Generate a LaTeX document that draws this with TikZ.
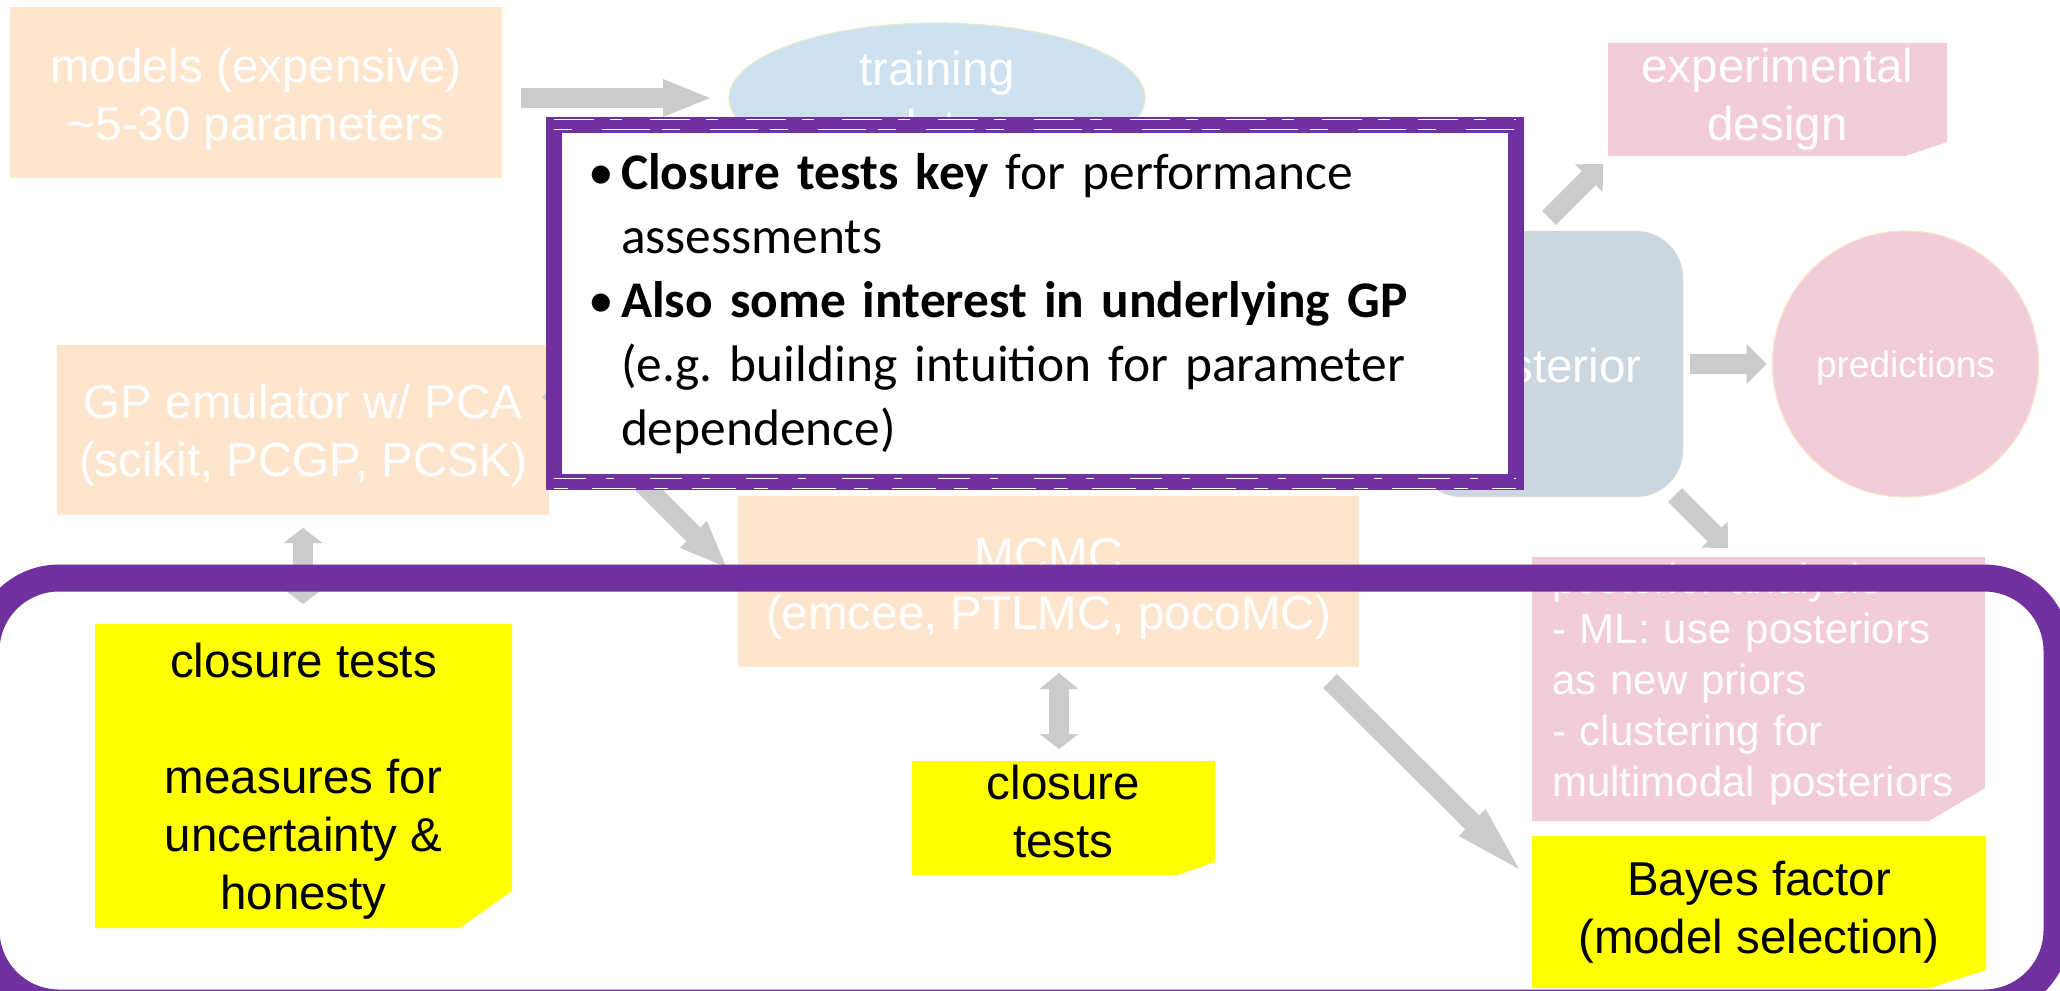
\documentclass[tikz,border=0pt]{standalone}
\usepackage{fontspec}
\setmainfont{Liberation Sans}
\newfontfamily\calibri{Carlito}
\usetikzlibrary{shapes.geometric,arrows.meta}

\definecolor{peach}{HTML}{FEE5CE}
\definecolor{skyfade}{HTML}{CDE1F0}
\definecolor{skyedge}{HTML}{E3EDC9}
\definecolor{rosefade}{HTML}{F2CCD9}
\definecolor{roseedge}{HTML}{FBE3C8}
\definecolor{slatefade}{HTML}{CDD7E0}
\definecolor{arrowgray}{HTML}{CBCBCB}
\definecolor{notepurple}{HTML}{7030A0}
\definecolor{hilite}{HTML}{FFFF00}

\newcommand{\liftline}[1]{\rule{0pt}{#1}}
\newcommand{\sinkline}[1]{\rule[-#1]{0pt}{#1}}

\begin{document}
\begin{tikzpicture}
[x=0.5pt, y=-0.5pt,
 every node/.style={inner sep=0pt, outer sep=0pt},
 faded/.style={text=white, font=\fontsize{23.75pt}{29pt}\selectfont, align=center},
 inked/.style={text=black, font=\fontsize{23.75pt}{29pt}\selectfont, align=center},
 cutbox/.style n args={3}{fill=white, path picture={
   \fill[#1] (path picture bounding box.north west) -- (path picture bounding box.north east)
     -- ([yshift=#3]path picture bounding box.south east) -- ([xshift=-#2]path picture bounding box.south east)
     -- (path picture bounding box.south west) -- cycle;}},
 fatarrow/.style={draw=arrowgray, line width=9.75pt}]
\useasboundingbox (0,0) rectangle (2060,990);
\clip (0,0) rectangle (2060,990);
\fill[white] (0,0) rectangle (2060,990);

\node (models) [rectangle, fill=peach, minimum width=246pt, minimum height=85.5pt, faded] at (256, 92.5) {\liftline{23.5pt}models (expensive)\\\textasciitilde5-30 parameters};
\node (training) [ellipse, fill=skyfade, draw=skyedge, line width=0.6pt, minimum width=208pt, minimum height=75pt, faded] at (937, 98) {training\\data};
\node (gp) [rectangle, fill=peach, minimum width=246pt, minimum height=85pt, faded] at (303, 430) {\liftline{22pt}GP emulator w/ PCA\\(scikit, PCGP, PCSK)};
\node (mcmc) [rectangle, fill=peach, minimum width=310.5pt, minimum height=85.5pt, faded] at (1048.5, 581.5) {\liftline{23.5pt}MCMC\\(emcee, PTLMC, pocoMC)};
\node (post) [rectangle, rounded corners=23.5pt, fill=slatefade, minimum width=134pt, minimum height=133pt, faded] at (1549, 364) {\liftline{23pt}posterior};
\node (pred) [circle, fill=rosefade, draw=roseedge, line width=0.6pt, minimum size=133pt, text=white, font=\fontsize{18.5pt}{22pt}\selectfont] at (1905.5, 364) {\liftline{17pt}predictions};
\node (exp) [cutbox={rosefade}{21pt}{7pt}, minimum width=169.5pt, minimum height=56.5pt, faded] at (1777.5, 99.5) {experimental\\design};
\node (pink) [cutbox={rosefade}{28pt}{16.5pt}, minimum width=226.5pt, minimum height=132pt, text=white, font=\fontsize{21pt}{25.4pt}\selectfont, text width=206.5pt, align=left] at (1758.5, 689) {posterior analysis\\- ML: use posteriors\\as new priors\\- clustering for\\multimodal posteriors\sinkline{9.5pt}};
\node (closL) [cutbox={hilite}{26pt}{18.5pt}, minimum width=208.5pt, minimum height=152pt, inked] at (303.5, 776) {\liftline{22pt}closure tests\\[29pt]measures for\\uncertainty \&\\honesty};
\node (clos2) [cutbox={hilite}{18.5pt}{6.5pt}, minimum width=151.5pt, minimum height=57pt, inked] at (1063.5, 818) {closure\\tests\sinkline{6.5pt}};
\node (bayes) [cutbox={hilite}{28pt}{9pt}, minimum width=227pt, minimum height=76pt, inked] at (1759, 912) {Bayes factor\\(model selection)};

\draw [fatarrow, -{Triangle[length=23.5pt, width=19pt, line width=0pt]}, shorten <=9.5pt, shorten >=9.5pt] (models.east |- training.west) -- (training.west);
\draw [fatarrow, -{Triangle[length=23pt, width=19pt, line width=0pt]}] ([yshift=20pt]gp.east) -- ([xshift=-6pt, yshift=7.25pt]mcmc.west);
\draw [fatarrow, {Triangle[length=7.5pt, width=19.5pt, line width=0pt]}-{Triangle[length=7.5pt, width=19.5pt, line width=0pt]}, shorten <=6.5pt, shorten >=10pt] (gp.south) -- (gp.south |- closL.north);
\draw [fatarrow, {Triangle[length=8pt, width=19.5pt, line width=0pt]}-{Triangle[length=7.5pt, width=19.5pt, line width=0pt]}, shorten <=3pt, shorten >=6pt] ([xshift=5.25pt]mcmc.south) -- ([xshift=5.25pt]mcmc.south |- clos2.north);
\draw [fatarrow, -{Triangle[length=33pt, width=19pt, line width=0pt]}] ([xshift=-14.5pt, yshift=-7pt]mcmc.south east) -- ([xshift=-6.5pt, yshift=-16.5pt]bayes.north west);
\draw [fatarrow, -{Triangle[length=10pt, width=19.5pt, line width=0pt]}] ([yshift=6.5pt]post.north) -- ([xshift=-2.5pt, yshift=-4pt]exp.south west);
\draw [fatarrow, -{Triangle[length=10pt, width=20pt, line width=0pt]}, shorten <=3.5pt, shorten >=3pt] (post.east) -- (pred.west);
\draw [fatarrow, -{Triangle[length=9.5pt, width=18.5pt, line width=0pt]}] ([xshift=-4pt, yshift=1pt]post.south east) -- ([xshift=-15.25pt, yshift=4.5pt]pink.north);

\node (focus) [rectangle, draw=notepurple, line width=13.5pt, rounded corners=36.5pt, minimum width=1035.5pt, minimum height=212.5pt] at (1021.5, 790.5) {};

\node (note) [rectangle, fill=white, draw=notepurple, line width=8pt, minimum width=481pt, minimum height=178.5pt, text width=447pt, align=left, text=black, font=\calibri\fontsize{25.7pt}{32pt}\selectfont] at (1035, 303.5) {\makebox[16.5pt][l]{•}\textbf{Closure tests key} for performance\\
\hspace*{16.5pt}assessments\\
\makebox[16.5pt][l]{•}\textbf{Also some interest in underlying GP}\\
\hspace*{16.5pt}(e.g.\ building intuition for parameter\\
\hspace*{16.5pt}dependence)};
\draw [white, line width=0.35pt, dash pattern=on 20pt off 8pt on 6pt off 14pt] ([yshift=3pt]note.north west) -- ([yshift=3pt]note.north east);
\draw [white, line width=0.35pt, dash pattern=on 9pt off 15pt on 24pt off 6pt] ([yshift=-2pt]note.north west) -- ([yshift=-2pt]note.north east);
\draw [white, line width=0.35pt, dash pattern=on 16pt off 10pt on 4pt off 18pt] ([yshift=2pt]note.south west) -- ([yshift=2pt]note.south east);
\draw [white, line width=0.35pt, dash pattern=on 7pt off 12pt on 22pt off 9pt] ([yshift=-3pt]note.south west) -- ([yshift=-3pt]note.south east);
\end{tikzpicture}
\end{document}
